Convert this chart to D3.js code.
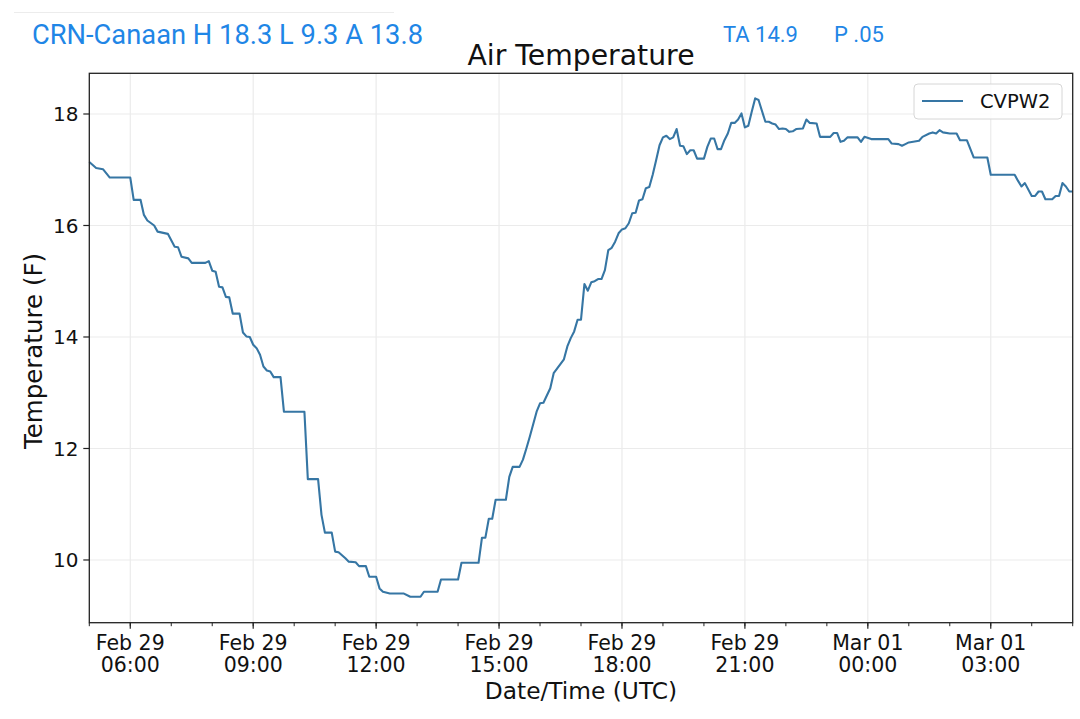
<!DOCTYPE html>
<html>
<head>
<meta charset="utf-8">
<script src="https://cdn.jsdelivr.net/npm/d3@7"></script>
<style>
  body { margin: 0; background: #fff; }
  svg { display: block; }
</style>
</head>
<body>
<div id="chart"></div>
<script>
// Readings of the CVPW2 station (UTC).
const times = [
  "02-29 05:00", "02-29 05:10", "02-29 05:20", "02-29 05:30", "02-29 06:00", "02-29 06:05",
  "02-29 06:15", "02-29 06:20", "02-29 06:25", "02-29 06:35", "02-29 06:40", "02-29 06:55",
  "02-29 07:05", "02-29 07:10", "02-29 07:15", "02-29 07:25", "02-29 07:30", "02-29 07:50",
  "02-29 07:55", "02-29 08:00", "02-29 08:05", "02-29 08:10", "02-29 08:15", "02-29 08:20",
  "02-29 08:25", "02-29 08:30", "02-29 08:40", "02-29 08:45", "02-29 08:50", "02-29 08:55",
  "02-29 09:00", "02-29 09:05", "02-29 09:10", "02-29 09:15", "02-29 09:20", "02-29 09:25",
  "02-29 09:30", "02-29 09:40", "02-29 09:45", "02-29 10:15", "02-29 10:20", "02-29 10:35",
  "02-29 10:40", "02-29 10:45", "02-29 10:55", "02-29 11:00", "02-29 11:05", "02-29 11:15",
  "02-29 11:20", "02-29 11:30", "02-29 11:35", "02-29 11:45", "02-29 11:50", "02-29 12:00",
  "02-29 12:05", "02-29 12:10", "02-29 12:20", "02-29 12:40", "02-29 12:50", "02-29 13:05",
  "02-29 13:10", "02-29 13:30", "02-29 13:35", "02-29 14:00", "02-29 14:05", "02-29 14:30",
  "02-29 14:35", "02-29 14:40", "02-29 14:45", "02-29 14:50", "02-29 14:55", "02-29 15:10",
  "02-29 15:15", "02-29 15:20", "02-29 15:30", "02-29 15:35", "02-29 15:40", "02-29 15:45",
  "02-29 15:55", "02-29 16:00", "02-29 16:05", "02-29 16:15", "02-29 16:20", "02-29 16:35",
  "02-29 16:40", "02-29 16:45", "02-29 16:50", "02-29 16:55", "02-29 17:00", "02-29 17:05",
  "02-29 17:10", "02-29 17:15", "02-29 17:20", "02-29 17:25", "02-29 17:30", "02-29 17:35",
  "02-29 17:40", "02-29 17:45", "02-29 17:50", "02-29 17:55", "02-29 18:00", "02-29 18:05",
  "02-29 18:10", "02-29 18:15", "02-29 18:20", "02-29 18:25", "02-29 18:30", "02-29 18:35",
  "02-29 18:40", "02-29 18:45", "02-29 18:50", "02-29 18:55", "02-29 19:00", "02-29 19:05",
  "02-29 19:10", "02-29 19:15", "02-29 19:20", "02-29 19:25", "02-29 19:30", "02-29 19:35",
  "02-29 19:40", "02-29 19:45", "02-29 19:50", "02-29 20:00", "02-29 20:05", "02-29 20:10",
  "02-29 20:15", "02-29 20:20", "02-29 20:25", "02-29 20:30", "02-29 20:35", "02-29 20:40",
  "02-29 20:45", "02-29 20:50", "02-29 20:55", "02-29 21:00", "02-29 21:05", "02-29 21:10",
  "02-29 21:15", "02-29 21:20", "02-29 21:30", "02-29 21:35", "02-29 21:40", "02-29 21:45",
  "02-29 21:50", "02-29 21:55", "02-29 22:00", "02-29 22:05", "02-29 22:10", "02-29 22:15",
  "02-29 22:25", "02-29 22:30", "02-29 22:35", "02-29 22:45", "02-29 22:50", "02-29 23:05",
  "02-29 23:10", "02-29 23:15", "02-29 23:20", "02-29 23:25", "02-29 23:30", "02-29 23:45",
  "02-29 23:50", "02-29 23:55", "03-01 00:05", "03-01 00:30", "03-01 00:35", "03-01 00:45",
  "03-01 00:50", "03-01 00:55", "03-01 01:00", "03-01 01:15", "03-01 01:20", "03-01 01:30",
  "03-01 01:35", "03-01 01:40", "03-01 01:45", "03-01 01:50", "03-01 02:00", "03-01 02:10",
  "03-01 02:15", "03-01 02:25", "03-01 02:35", "03-01 02:55", "03-01 03:00", "03-01 03:35",
  "03-01 03:40", "03-01 03:45", "03-01 03:50", "03-01 04:00", "03-01 04:05", "03-01 04:10",
  "03-01 04:15", "03-01 04:20", "03-01 04:30", "03-01 04:35", "03-01 04:40", "03-01 04:45",
  "03-01 04:50", "03-01 04:55", "03-01 05:00"
];
const temps = [
  17.14, 17.03, 17.01, 16.86, 16.86, 16.46,
  16.46, 16.19, 16.09, 16.00, 15.89, 15.85,
  15.62, 15.61, 15.44, 15.41, 15.33, 15.33,
  15.36, 15.19, 15.17, 14.90, 14.89, 14.72,
  14.71, 14.42, 14.42, 14.08, 14.01, 14.00,
  13.86, 13.80, 13.68, 13.47, 13.40, 13.38,
  13.28, 13.28, 12.66, 12.66, 11.45, 11.45,
  10.81, 10.49, 10.49, 10.15, 10.14, 10.03,
  9.97, 9.96, 9.89, 9.89, 9.70, 9.70,
  9.49, 9.43, 9.40, 9.40, 9.34, 9.34,
  9.43, 9.43, 9.65, 9.65, 9.95, 9.95,
  10.40, 10.40, 10.74, 10.74, 11.08, 11.08,
  11.49, 11.67, 11.67, 11.80, 12.00, 12.21,
  12.66, 12.81, 12.82, 13.08, 13.35, 13.60,
  13.83, 13.98, 14.10, 14.31, 14.31, 14.95,
  14.83, 14.98, 15.00, 15.04, 15.04, 15.20,
  15.56, 15.60, 15.71, 15.86, 15.93, 15.95,
  16.04, 16.22, 16.23, 16.45, 16.47, 16.67,
  16.69, 16.91, 17.17, 17.44, 17.58, 17.61,
  17.55, 17.58, 17.73, 17.43, 17.42, 17.28,
  17.35, 17.35, 17.20, 17.20, 17.41, 17.56,
  17.56, 17.37, 17.37, 17.53, 17.65, 17.84,
  17.84, 17.90, 18.01, 17.76, 17.79, 18.04,
  18.28, 18.25, 17.86, 17.86, 17.83, 17.81,
  17.73, 17.74, 17.73, 17.68, 17.69, 17.73,
  17.74, 17.90, 17.84, 17.83, 17.59, 17.59,
  17.66, 17.66, 17.50, 17.52, 17.58, 17.58,
  17.50, 17.59, 17.55, 17.55, 17.47, 17.46,
  17.43, 17.46, 17.49, 17.52, 17.59, 17.65,
  17.67, 17.65, 17.71, 17.67, 17.65, 17.65,
  17.53, 17.53, 17.22, 17.22, 16.91, 16.91,
  16.80, 16.70, 16.76, 16.53, 16.53, 16.61,
  16.61, 16.47, 16.47, 16.53, 16.53, 16.76,
  16.70, 16.61, 16.61
];
const seriesName = "CVPW2";
const yTicks = [10, 12, 14, 16, 18];
const headerLeft = "CRN-Canaan H 18.3 L 9.3 A 13.8";
const headerTA = "TA 14.9";
const headerP = "P .05";

const width = 1080, height = 719;
const plot = { left: 89.3, right: 1072.7, top: 73.3, bottom: 622.7 };
const font = "'DejaVu Sans', sans-serif";

const parse = d3.utcParse("%Y-%m-%d %H:%M");
const data = times.map((t, i) => ({ t: parse("2024-" + t), v: temps[i] }));

const svg = d3.select("#chart").append("svg")
  .attr("width", width)
  .attr("height", height)
  .attr("viewBox", [0, 0, width, height]);

// Header line and texts above the chart.
svg.append("line")
  .attr("x1", 14).attr("x2", 394)
  .attr("y1", 12.5).attr("y2", 12.5)
  .attr("stroke", "#ececec")
  .attr("stroke-width", 1);
svg.append("text")
  .attr("x", 32).attr("y", 44)
  .attr("font-family", "Roboto, sans-serif")
  .attr("font-size", 27.3)
  .attr("fill", "#1f86e6")
  .text(headerLeft);
svg.append("text")
  .attr("x", 723).attr("y", 42)
  .attr("font-family", "Roboto, sans-serif")
  .attr("font-size", 22)
  .attr("fill", "#1f86e6")
  .text(headerTA);
svg.append("text")
  .attr("x", 834).attr("y", 42)
  .attr("font-family", "Roboto, sans-serif")
  .attr("font-size", 22)
  .attr("fill", "#1f86e6")
  .text(headerP);

// Scales.
const x = d3.scaleUtc()
  .domain([parse("2024-02-29 05:00"), parse("2024-03-01 05:00")])
  .range([plot.left, plot.right]);
const y = d3.scaleLinear()
  .domain([8.875, 18.73])
  .range([plot.bottom, plot.top]);

const majorTicks = d3.utcHour.every(1).range(x.domain()[0], x.domain()[1]).filter(d => d.getUTCHours() % 3 === 0);
const minorTicks = d3.utcHour.every(1).range(x.domain()[0], d3.utcMinute.offset(x.domain()[1], 1));

// Grid lines.
const grid = svg.append("g").attr("stroke", "#ebebeb").attr("stroke-width", 1.2);
grid.selectAll(".gx").data(majorTicks).join("line")
  .attr("x1", d => x(d)).attr("x2", d => x(d))
  .attr("y1", plot.top).attr("y2", plot.bottom);
grid.selectAll(".gy").data(yTicks).join("line")
  .attr("x1", plot.left).attr("x2", plot.right)
  .attr("y1", d => y(d)).attr("y2", d => y(d));

// The temperature line.
const line = d3.line().x(d => x(d.t)).y(d => y(d.v));
svg.append("path")
  .datum(data)
  .attr("fill", "none")
  .attr("stroke", "#3676a4")
  .attr("stroke-width", 2.1)
  .attr("stroke-linejoin", "round")
  .attr("d", line);

// Frame.
svg.append("rect")
  .attr("x", plot.left).attr("y", plot.top)
  .attr("width", plot.right - plot.left)
  .attr("height", plot.bottom - plot.top)
  .attr("fill", "none")
  .attr("stroke", "#222")
  .attr("stroke-width", 1.3);

// X axis ticks and labels.
const fmtDay = d3.utcFormat("%b %d");
const fmtTime = d3.utcFormat("%H:%M");
svg.append("g").selectAll("line").data(minorTicks).join("line")
  .attr("x1", d => x(d)).attr("x2", d => x(d))
  .attr("y1", plot.bottom).attr("y2", plot.bottom + 3.5)
  .attr("stroke", "#222").attr("stroke-width", 1);
svg.append("g").selectAll("line").data(majorTicks).join("line")
  .attr("x1", d => x(d)).attr("x2", d => x(d))
  .attr("y1", plot.bottom).attr("y2", plot.bottom + 6)
  .attr("stroke", "#222").attr("stroke-width", 1.2);
const xl = svg.append("g")
  .attr("font-family", font)
  .attr("font-size", 20.5)
  .attr("fill", "#111")
  .attr("text-anchor", "middle");
xl.selectAll(".d").data(majorTicks).join("text")
  .attr("x", d => x(d)).attr("y", 649.5)
  .text(d => fmtDay(d));
xl.selectAll(".t").data(majorTicks).join("text")
  .attr("x", d => x(d)).attr("y", 672)
  .text(d => fmtTime(d));

// Y axis ticks and labels.
svg.append("g").selectAll("line").data(yTicks).join("line")
  .attr("x1", plot.left - 6).attr("x2", plot.left)
  .attr("y1", d => y(d)).attr("y2", d => y(d))
  .attr("stroke", "#222").attr("stroke-width", 1.2);
svg.append("g")
  .attr("font-family", font)
  .attr("font-size", 20)
  .attr("fill", "#111")
  .attr("text-anchor", "end")
  .selectAll("text").data(yTicks).join("text")
  .attr("x", 78.5).attr("y", d => y(d))
  .attr("dy", "0.36em")
  .text(d => d);

// Axis titles and chart title.
svg.append("text")
  .attr("x", (plot.left + plot.right) / 2).attr("y", 699)
  .attr("text-anchor", "middle")
  .attr("font-family", font).attr("font-size", 23.3)
  .attr("fill", "#111")
  .text("Date/Time (UTC)");
svg.append("text")
  .attr("transform", `translate(42,${(plot.top + plot.bottom) / 2 + 3}) rotate(-90)`)
  .attr("text-anchor", "middle")
  .attr("font-family", font).attr("font-size", 24.5)
  .attr("fill", "#111")
  .text("Temperature (F)");
svg.append("text")
  .attr("x", (plot.left + plot.right) / 2).attr("y", 65)
  .attr("text-anchor", "middle")
  .attr("font-family", font).attr("font-size", 28.3)
  .attr("fill", "#111")
  .text("Air Temperature");

// Legend.
const legend = svg.append("g");
legend.append("rect")
  .attr("x", 914).attr("y", 84)
  .attr("width", 148).attr("height", 35)
  .attr("rx", 4)
  .attr("fill", "#fff").attr("fill-opacity", 0.85)
  .attr("stroke", "#d6d6d6").attr("stroke-width", 1);
legend.append("line")
  .attr("x1", 922).attr("x2", 963)
  .attr("y1", 101).attr("y2", 101)
  .attr("stroke", "#3676a4").attr("stroke-width", 2.1);
legend.append("text")
  .attr("x", 980).attr("y", 108)
  .attr("font-family", font).attr("font-size", 19.5)
  .attr("fill", "#111")
  .text(seriesName);
</script>
</body>
</html>
